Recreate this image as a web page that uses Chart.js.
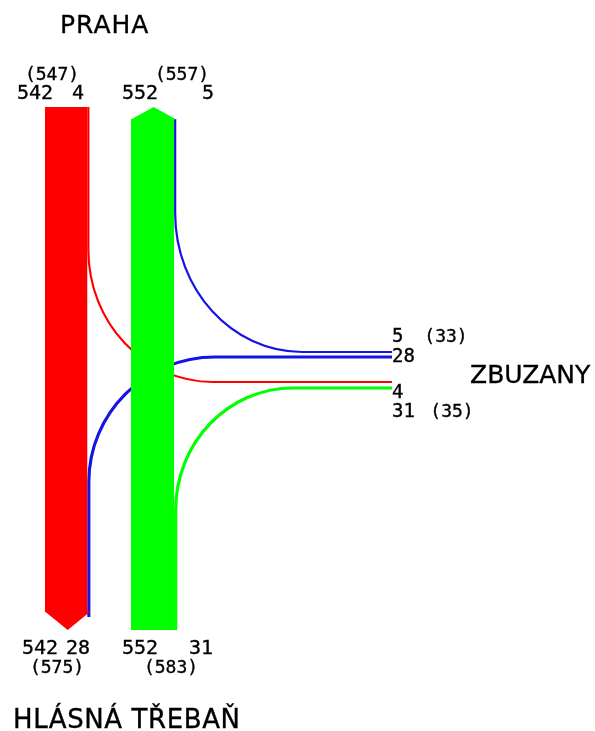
<!DOCTYPE html>
<html>
<head>
<meta charset="utf-8">
<script src="https://cdn.jsdelivr.net/npm/chart.js@4.4.1/dist/chart.umd.min.js"></script>
<style>
    html, body { margin: 0; padding: 0; background: #fff; }
    #wrap { width: 595px; height: 731px; }
</style>
</head>
<body>
<div id="wrap"><canvas id="flow" width="595" height="731"></canvas></div>
<script>
// ramena křižovatky
const armNames = ['PRAHA', 'HLÁSNÁ TŘEBAŇ', 'ZBUZANY'];

// intenzity jednotlivých směrů (voz/den)
const movements = ['PRAHA>HLÁSNÁ TŘEBAŇ', 'PRAHA>ZBUZANY', 'HLÁSNÁ TŘEBAŇ>PRAHA', 'ZBUZANY>PRAHA', 'ZBUZANY>HLÁSNÁ TŘEBAŇ', 'HLÁSNÁ TŘEBAŇ>ZBUZANY'];
const volumes = [542, 4, 552, 5, 28, 31];

// součty v profilech (v závorkách)
const sections = ['PRAHA jih', 'PRAHA sever', 'TŘEBAŇ jih', 'TŘEBAŇ sever', 'ZBUZANY ven', 'ZBUZANY do'];
const sectionTotals = [547, 557, 575, 583, 33, 35];

const colors = { south: '#ff0000', north: '#00ff00', east: '#1414e6' };

// geometrie schematu (v jednotkách os)
const K = 0.078;                        // šířka pásu na 1 vozidlo
const thin = v => 2 + v * 0.04;        // slabé proudy
const layout = {
    southX: 45, northX: 131,            // levé hrany pásů
    top: 107, shoulder: 119, barEnd: 612, bottom: 630,
    eastEnd: 392
};
// odbočující proudy: index v movements, kde se ohýbají a kam vedou
const turnIdx = [1, 3, 4, 5];
const turnBendY = [250, 213, 482, 510];
const turnBendX = [213, 302, 215, 293];
const turnEastY = [382, 352, 357, 388];

const flowPlugin = {
    id: 'flowPlugin',
    afterDraw(chart) {
        const ctx = chart.ctx;
        const px = v => chart.scales.x.getPixelForValue(v);
        const py = v => chart.scales.y.getPixelForValue(v);
        const kap = 0.5523;

        const southEdge = layout.southX + volumes[0] * K;
        const northEdge = layout.northX + volumes[2] * K;

        // svislá poloha a rozsah odbočujících proudů
        const laneX = [southEdge + thin(volumes[1]) / 2, northEdge + thin(volumes[3]) / 2,
                       southEdge + thin(volumes[4]) / 2, northEdge + thin(volumes[5]) / 2];
        const laneEndY = [layout.top, layout.shoulder, layout.barEnd + 5, layout.bottom];
        const turnColor = [colors.south, colors.east, colors.east, colors.north];

        ctx.save();
        turnIdx.forEach((mi, i) => {
            const x0 = laneX[i], y0 = turnBendY[i], x1 = turnBendX[i], y1 = turnEastY[i];
            ctx.beginPath();
            ctx.moveTo(px(x0), py(laneEndY[i]));
            ctx.lineTo(px(x0), py(y0));
            ctx.bezierCurveTo(px(x0), py(y0 + kap * (y1 - y0)), px(x1 - kap * (x1 - x0)), py(y1), px(x1), py(y1));
            ctx.lineTo(px(layout.eastEnd), py(y1));
            ctx.strokeStyle = turnColor[i];
            ctx.lineWidth = thin(volumes[mi]);
            ctx.stroke();
        });

        // pás Praha -> Hlásná Třebaň (červený, šipka dolů)
        const sRight = southEdge + thin(volumes[4]);
        ctx.fillStyle = colors.south;
        ctx.fillRect(px(layout.southX), py(layout.top), px(southEdge) - px(layout.southX), py(layout.barEnd) - py(layout.top));
        ctx.beginPath();
        ctx.moveTo(px(layout.southX), py(layout.barEnd - 0.5));
        ctx.lineTo(px(sRight), py(layout.barEnd - 0.5));
        ctx.lineTo(px((layout.southX + sRight) / 2), py(layout.bottom));
        ctx.closePath();
        ctx.fill();

        // pás Hlásná Třebaň -> Praha (zelený, šipka nahoru)
        const nRight = northEdge + thin(volumes[3]);
        ctx.fillStyle = colors.north;
        ctx.fillRect(px(layout.northX), py(layout.shoulder), px(northEdge) - px(layout.northX), py(layout.bottom) - py(layout.shoulder));
        ctx.beginPath();
        ctx.moveTo(px(layout.northX), py(layout.shoulder + 0.5));
        ctx.lineTo(px(nRight), py(layout.shoulder + 0.5));
        ctx.lineTo(px((layout.northX + nRight) / 2), py(layout.top));
        ctx.closePath();
        ctx.fill();

        // popisy
        const mono = s => s + 'px "DejaVu Sans Mono"';
        const sans = s => s + 'px "DejaVu Sans"';
        const labels = [
            [armNames[0], 60, 33, 'left', sans(25), '1px'],
            [armNames[1], 13, 728, 'left', sans(26), '0.6px'],
            [armNames[2], 470, 383, 'left', sans(25), '0px'],
            ['(' + sectionTotals[0] + ')', 52, 80, 'center', mono(18)],
            ['(' + sectionTotals[1] + ')', 182, 80, 'center', mono(18)],
            [String(volumes[0]), 35, 99, 'center', mono(20)],
            [String(volumes[1]), 78, 99, 'center', mono(20)],
            [String(volumes[2]), 140, 99, 'center', mono(20)],
            [String(volumes[3]), 208, 99, 'center', mono(20)],
            [String(volumes[0]), 40, 654, 'center', mono(20)],
            [String(volumes[4]), 78, 654, 'center', mono(20)],
            [String(volumes[2]), 140, 654, 'center', mono(20)],
            [String(volumes[5]), 201, 654, 'center', mono(20)],
            ['(' + sectionTotals[2] + ')', 57, 673, 'center', mono(18)],
            ['(' + sectionTotals[3] + ')', 171, 673, 'center', mono(18)],
            [String(volumes[3]), 392, 342, 'left', mono(19)],
            ['(' + sectionTotals[4] + ')', 446, 342, 'center', mono(18)],
            [String(volumes[4]), 392, 362, 'left', mono(19)],
            [String(volumes[1]), 392, 398, 'left', mono(19)],
            [String(volumes[5]), 392, 417, 'left', mono(19)],
            ['(' + sectionTotals[5] + ')', 452, 417, 'center', mono(18)]
        ];
        ctx.fillStyle = '#000';
        ctx.strokeStyle = '#000';
        ctx.lineWidth = 0.35;
        ctx.textBaseline = 'alphabetic';
        labels.forEach(([t, x, y, align, font, spacing]) => {
            ctx.font = font;
            ctx.textAlign = align;
            ctx.letterSpacing = spacing || '0px';
            ctx.fillText(t, px(x), py(y));
            ctx.strokeText(t, px(x), py(y));
        });
        ctx.restore();
    }
};

new Chart(document.getElementById('flow'), {
    type: 'scatter',
    data: { datasets: [] },
    options: {
        responsive: false,
        animation: false,
        layout: { padding: 0 },
        plugins: { legend: { display: false }, tooltip: { enabled: false } },
        scales: {
            x: { type: 'linear', min: 0, max: 595, display: false },
            y: { type: 'linear', min: 0, max: 731, reverse: true, display: false }
        }
    },
    plugins: [flowPlugin]
});
</script>
</body>
</html>
